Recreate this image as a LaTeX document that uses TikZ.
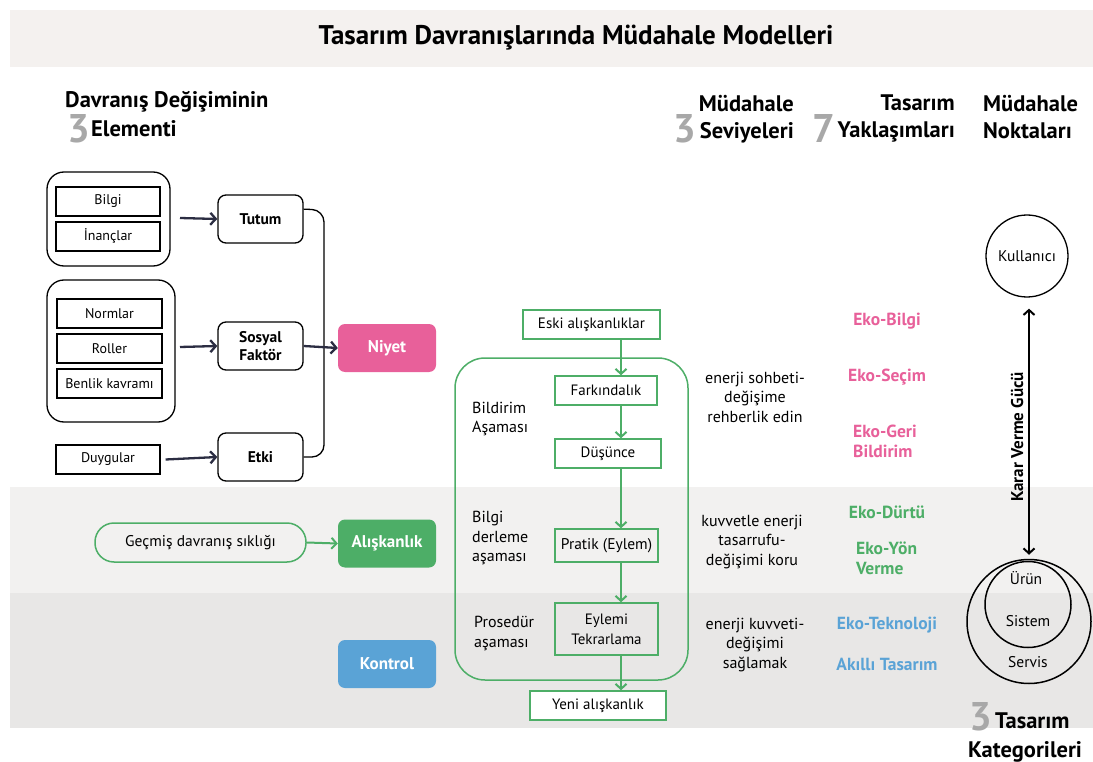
\documentclass[tikz,border=0pt]{standalone}
\usepackage{fontspec}
\setmainfont{PT Sans}
\usetikzlibrary{arrows.meta,calc}
\definecolor{banner}{HTML}{F4F1EF}
\definecolor{bandA}{HTML}{F2F1F0}
\definecolor{bandB}{HTML}{E8E7E6}
\definecolor{navy}{HTML}{2B2D42}
\definecolor{pinkc}{HTML}{E8609A}
\definecolor{greenc}{HTML}{4DAE67}
\definecolor{bluec}{HTML}{5AA3D6}
\definecolor{numgray}{HTML}{A8A8A8}
% font size with explicit line distance
\newcommand{\fsz}[2]{\fontsize{#1}{#2}\selectfont}
\tikzset{
  plainbox/.style={draw=black, line width=1.1pt, minimum width=104pt, minimum height=29pt, inner sep=0pt, font=\fsz{14}{16}},
  grpbox/.style={draw=black, line width=1.3pt, rounded corners=17pt, inner sep=0pt},
  midbox/.style={draw=black, line width=1.3pt, rounded corners=8pt, minimum width=85pt, minimum height=48pt, inner sep=0pt, align=center, font=\bfseries\fsz{15.5}{17.5}},
  pillbox/.style={rounded corners=7pt, minimum width=98pt, minimum height=48pt, inner sep=0pt, text=white, font=\bfseries\fsz{17}{19}},
  gbox/.style={draw=greenc, line width=1.5pt, minimum height=29pt, inner sep=0pt, align=center, font=\fsz{15}{20}},
  navyarrow/.style={draw=navy, line width=2.3pt, -{Straight Barb[length=5.5pt,width=12pt]}},
  greenarrow/.style={draw=greenc, line width=2pt, -{Straight Barb[length=5pt,width=11pt]}},
  heading/.style={inner sep=0pt, font=\bfseries\fsz{22.5}{25}},
  bignum/.style={inner sep=0pt, text=numgray, font=\bfseries\fsz{40}{40}},
  stagelbl/.style={anchor=west, inner sep=0pt, align=left, font=\fsz{16}{19.3}},
  leveltxt/.style={inner sep=0pt, align=center, font=\fsz{16}{19.5}},
  ekotxt/.style={inner sep=0pt, font=\bfseries\fsz{17.5}{20}},
  circlbl/.style={inner sep=0pt, font=\fsz{15.5}{17}}
}
\begin{document}
\begin{tikzpicture}[x=1pt,y=-1pt]
\useasboundingbox (0,0) rectangle (1093,762);
\fill[white] (0,0) rectangle (1093,762);
% background bands
\fill[banner] (10,10) rectangle (1093,67);
\fill[bandA] (10,487) rectangle (1093,593);
\fill[bandB] (10,593) rectangle (1093,728);

% title
\node[inner sep=0pt, font=\bfseries\fsz{27}{29}] (title) at (576,38) {Tasarım Davranışlarında Müdahale Modelleri};

% column headings
\node[heading, anchor=base west] (h1a) at (65,108) {Davranış Değişiminin};
\node[heading, anchor=base west] (h1b) at (91,137) {Elementi};
\node[bignum, anchor=base east] (n1) at ($(h1b.base west)+(-1,6)$) {3};

\node[heading, anchor=base east] (h2a) at (794,112) {Müdahale};
\node[heading, anchor=base east] (h2b) at (794,139) {Seviyeleri};
\node[bignum, anchor=base east] (n2) at ($(h2b.base west)+(-3,4)$) {3};

\node[heading, anchor=base east] (h3a) at (955,111) {Tasarım};
\node[heading, anchor=base east] (h3b) at (955,138) {Yaklaşımları};
\node[bignum, anchor=base east] (n3) at ($(h3b.base west)+(-2,5)$) {7};

\node[heading, anchor=base west] (h4a) at (983,112) {Müdahale};
\node[heading, anchor=base west] (h4b) at (983,139) {Noktaları};

% left: element groups
\node[grpbox, minimum width=123pt, minimum height=94pt] (g1) at (108.5,219) {};
\node[plainbox] (bilgi) at (108,201.5) {Bilgi};
\node[plainbox] (inanc) at (108,236.5) {İnançlar};

\node[grpbox, minimum width=128pt, minimum height=142pt] (g2) at (111,351) {};
\node[plainbox, minimum width=105pt] (norm) at (109.5,313.5) {Normlar};
\node[plainbox, minimum width=105pt] (rol) at (109.5,348.5) {Roller};
\node[plainbox, minimum width=105pt] (benlik) at (109.5,383.5) {Benlik kavramı};

\node[plainbox] (duygu) at (108,459.5) {Duygular};

\node[midbox] (tutum) at (260.5,219) {Tutum};
\node[midbox] (sosyal) at (260.5,346) {Sosyal\\Faktör};
\node[midbox] (etki) at (260.5,457) {Etki};

\draw[navyarrow] (180,218) -- (tutum.west);
\draw[navyarrow] (180,347) -- (sosyal.west);
\draw[navyarrow] (duygu.east) ++(5pt,0) -- (etki.west);

\node[pillbox, fill=pinkc] (niyet) at (387,348) {Niyet};
\node[pillbox, fill=greenc] (alis) at (387,543.5) {Alışkanlık};
\node[pillbox, fill=bluec] (kontrol) at (387,664) {Kontrol};

% bracket joining the three factors
\draw[black, line width=1.3pt, rounded corners=12pt]
  ($(tutum.north east)!0.3!(tutum.south east)$) -- (324,210) -- (324,457) -- (etki.east);
\draw[navyarrow] (sosyal.east) -- (niyet.west);

% past behaviour
\node[draw=greenc, line width=1.5pt, rounded corners=19pt, minimum width=211pt, minimum height=39pt, inner sep=0pt, font=\fsz{15.5}{17}] (gecmis) at (200.5,542.5) {Geçmiş davranış sıklığı};
\draw[greenarrow] (gecmis.east) -- (alis.west);

% habit formation stages
\node[draw=greenc, line width=1.5pt, rounded corners=30pt, minimum width=233pt, minimum height=322pt, inner sep=0pt] (stages) at (571.5,519) {};
\node[gbox, minimum width=137pt, fill=white] (eski) at (591.5,324.5) {Eski alışkanlıklar};
\node[gbox, minimum width=102pt] (fark) at (606,390.5) {Farkındalık};
\node[gbox, minimum width=106pt] (dus) at (608,453.5) {Düşünce};
\node[gbox, minimum width=103pt, minimum height=33pt, font=\fsz{15.5}{17}] (pratik) at (606.5,545.5) {Pratik (Eylem)};
\node[gbox, minimum width=103pt, minimum height=52pt] (eylemi) at (606.5,629) {Eylemi\\Tekrarlama};
\node[gbox, minimum width=136pt, fill=white] (yeni) at (598,705.5) {Yeni alışkanlık};

\coordinate (ax) at (621,0);
\draw[greenarrow] (eski.south -| ax) -- (fark.north -| ax);
\draw[greenarrow] (fark.south -| ax) -- (dus.north -| ax);
\draw[greenarrow] (dus.south -| ax) -- (pratik.north -| ax);
\draw[greenarrow] (pratik.south -| ax) -- (eylemi.north -| ax);
\draw[greenarrow] (eylemi.south -| ax) -- (yeni.north -| ax);

\node[stagelbl] (st1) at (472,419) {Bildirim\\Aşaması};
\node[stagelbl] (st2) at (472,538) {Bilgi\\derleme\\aşaması};
\node[stagelbl] (st3) at (474,633.5) {Prosedür\\aşaması};

% intervention levels
\node[leveltxt] (lv1) at (755,397) {enerji sohbeti-\\değişime\\rehberlik edin};
\node[leveltxt] (lv2) at (752,542) {kuvvetle enerji\\tasarrufu-\\değişimi koru};
\node[leveltxt] (lv3) at (755,645) {enerji kuvveti-\\değişimi\\sağlamak};

% design approaches
\node[ekotxt, text=pinkc] (e1) at (887,321) {Eko-Bilgi};
\node[ekotxt, text=pinkc] (e2) at (887,377) {Eko-Seçim};
\node[ekotxt, text=pinkc, anchor=west, align=left] (e3) at (853,441) {Eko-Geri\\Bildirim};
\node[ekotxt, text=greenc] (e4) at (887,512) {Eko-Dürtü};
\node[ekotxt, text=greenc, anchor=west, align=left] (e5) at (856,558.5) {Eko-Yön\\Verme};
\node[ekotxt, text=bluec] (e6) at (887,625) {Eko-Teknoloji};
\node[ekotxt, text=bluec] (e7) at (887,664) {Akıllı Tasarım};

% intervention points
\node[circle, draw=black, line width=1.3pt, minimum size=82pt, inner sep=0pt, font=\fsz{15.5}{17}] (kull) at (1027,256) {Kullanıcı};
\node[circle, draw=black, line width=1.5pt, minimum size=124pt, inner sep=0pt] (outer) at (1029,621.5) {};
\node[circle, draw=black, line width=1.5pt, minimum size=86pt, inner sep=0pt] (inner) at (1028,604.5) {};
\node[circlbl] (urun) at (1026,578) {Ürün};
\node[circlbl] (sistem) at (1028,621) {Sistem};
\node[circlbl] (servis) at (1028,662) {Servis};

\draw[black, line width=2pt, {Straight Barb[length=5pt,width=11pt]}-{Straight Barb[length=5pt,width=11pt]}]
  (kull.south -| outer) ++(0,11) -- ($(outer.north)+(0,-4)$);
\node[rotate=90, inner sep=0pt, font=\bfseries\fsz{17}{19}] (karar) at (1017,437) {Karar Verme Gücü};

\node[heading, anchor=base west] (h5a) at (995,728) {Tasarım};
\node[heading, anchor=base west] (h5b) at (968,757) {Kategorileri};
\node[bignum, anchor=base east] (n5) at ($(h5a.base west)+(-3,2)$) {3};
\end{tikzpicture}
\end{document}
